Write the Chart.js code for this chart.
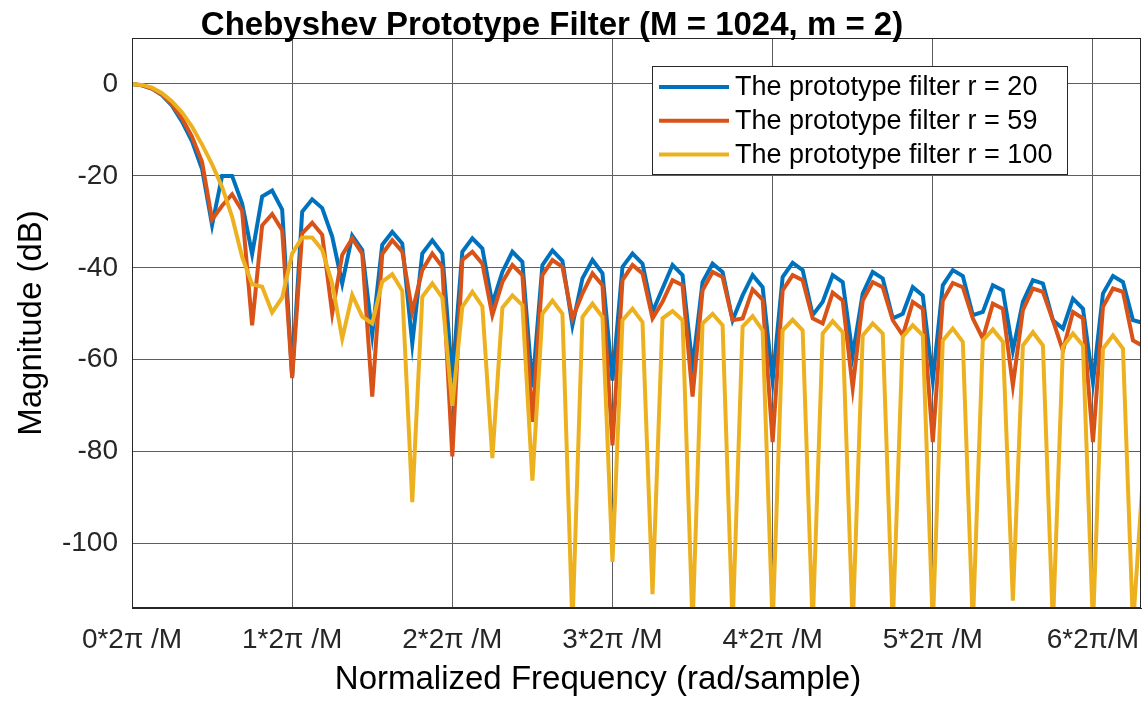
<!DOCTYPE html>
<html>
<head>
<meta charset="utf-8">
<title>Chebyshev Prototype Filter</title>
<script src="https://cdn.jsdelivr.net/npm/chart.js@4.4.0/dist/chart.umd.min.js"></script>
<style>
	html, body { margin: 0; padding: 0; background: #ffffff; }
	#grafico { display: block; }
</style>
</head>
<body>
<canvas id="grafico" width="1143" height="702"></canvas>
<script>
// Magnitudes (dB), one sample every 1/16 of 2*pi/M
const filtroR20 = [
	0, -0.3, -1.0, -2.4, -4.7, -8.2, -12.5, -18.5, -30.7, -20, -20, -26, -37, -24.5, -23.2, -27.3,
	-63.5, -27.8, -25.1, -27, -33.2, -43.4, -33, -36.1, -54.5, -35, -32.2, -34.7, -56.5, -36.9, -34, -36.9,
	-64, -36.5, -33.6, -35.8, -47.8, -40.9, -36.5, -38.7, -66, -39.4, -36.2, -38.5, -52.5, -42.3, -38.3, -41.2,
	-64.5, -39.8, -36.9, -39.1, -49.6, -44.5, -39.4, -41.6, -61.6, -43.1, -39.1, -40.9, -51.4, -46, -41.6, -44.2,
	-64.5, -42, -38.9, -40.5, -50.3, -47.4, -41.6, -43.1, -59, -45.6, -40.9, -42.3, -51, -50, -44.2, -46,
	-64.5, -43.8, -40.5, -41.8, -50.3, -49.6, -43.8, -44.9, -58, -47.4, -42.7, -43.4, -51.4, -53.2, -46.7, -48.9,
	-64.9, -45.6, -41.8, -43.1, -51.4, -52,
];

const filtroR59 = [
	0, -0.3, -1.0, -2.3, -4.5, -7.5, -11.5, -17, -29.5, -26.5, -24, -27.6, -52.5, -30.8, -28.3, -31.8,
	-64, -32.5, -30.2, -32.8, -49.9, -37.2, -33.6, -36.9, -68, -37, -34, -36.5, -49.6, -40.5, -36.9, -39.8,
	-81, -38.3, -36.5, -39.1, -50.3, -43.1, -39.4, -41.6, -73.5, -41.6, -38.3, -39.8, -51, -45.6, -41.2, -43.8,
	-78.6, -42.7, -39.4, -41.2, -51, -47.4, -42.7, -43.8, -68, -44.9, -40.9, -42, -51.4, -51, -44.7, -46.9,
	-77.9, -44.9, -41.6, -42.7, -51, -52.1, -45.4, -47.1, -66.1, -47.1, -43.1, -44.2, -51.4, -54.7, -47.4, -48.9,
	-77.9, -47.1, -43.3, -44.2, -51, -55.4, -47.8, -48.9, -65.6, -49.2, -44.5, -45.2, -51.4, -58, -49.6, -51,
	-77.9, -48.5, -44.5, -45.2, -55.8, -57,
];

const filtroR100 = [
	0, -0.2, -0.8, -2.0, -3.8, -6.2, -9.3, -13.2, -17.5, -22.4, -28.9, -37.6, -43.6, -44.1, -49.7, -46.5,
	-36.9, -33.4, -33.4, -36.1, -43.4, -55.4, -45.9, -50.6, -52.1, -43, -41.4, -45, -91, -46.3, -43.4, -46.5,
	-70, -48.5, -45.2, -48.4, -81.4, -48.7, -46, -48.1, -86.3, -50, -47.1, -50, -118, -50.7, -47.8, -50.7,
	-104, -51.4, -48.9, -51.8, -111, -51, -49.4, -51.4, -118, -52.1, -50, -52.5, -118, -52.8, -50.5, -53.6,
	-118, -53.6, -51.3, -53.6, -118, -54.3, -51.6, -54, -118, -54.7, -52.1, -54.3, -118, -55, -52.5, -54.7,
	-118, -55.8, -53.2, -56.1, -118, -55.8, -53.4, -56.1, -112.4, -56.9, -54, -56.9, -118, -57.2, -54.3, -56.9,
	-118, -57.6, -54.7, -57.6, -118, -85,
];

const nomes = [
	"The prototype filter r = 20",
	"The prototype filter r = 59",
	"The prototype filter r = 100",
];
const cores = ["#0072BD", "#D95319", "#EDB120"];

const ticksX = [0, 1, 2, 3, 4, 5, 6];
const rotulosX = ["0*2π /M", "1*2π /M", "2*2π /M", "3*2π /M", "4*2π /M", "5*2π /M", "6*2π/M"];
const ticksY = [-100, -80, -60, -40, -20, 0];

const titulo = "Chebyshev Prototype Filter (M = 1024, m = 2)";
const tituloX = "Normalized Frequency (rad/sample)";
const tituloY = "Magnitude (dB)";

// eixo de frequência uniforme: 16 amostras por 2*pi/M
const frequencias = filtroR20.map((_, k) => k / 16);

const fonte = "'Liberation Sans', Arial, sans-serif";
const corTexto = "#262626";
const corGrade = "#5e5e5e";

// Título, rótulo do eixo x, caixa fechada e legenda desenhados por cima
const pluginMoldura = {
	id: "moldura",
	afterDatasetsDraw(chart) {
		const { ctx, chartArea: a } = chart;
		ctx.save();
		ctx.strokeStyle = corTexto;
		ctx.lineWidth = 1;
		ctx.strokeRect(a.left + 0.5, a.top + 0.5, a.right - a.left - 1, a.bottom - a.top - 1);
		ctx.restore();
	},
	afterDraw(chart) {
		const ctx = chart.ctx;
		ctx.save();

		// título
		ctx.fillStyle = "#000000";
		ctx.font = "bold 33px " + fonte;
		ctx.textAlign = "center";
		ctx.textBaseline = "middle";
		ctx.fillText(titulo, 552, 26);

		// rótulo do eixo x
		ctx.font = "33px " + fonte;
		ctx.fillText(tituloX, 598, 680);

		// legenda
		const x0 = 652, y0 = 66, w = 415, h = 108;
		ctx.fillStyle = "#ffffff";
		ctx.fillRect(x0, y0, w, h);
		ctx.strokeStyle = corTexto;
		ctx.lineWidth = 1;
		ctx.strokeRect(x0 + 0.5, y0 + 0.5, w, h);
		ctx.font = "27px " + fonte;
		ctx.textAlign = "left";
		ctx.fillStyle = "#000000";
		chart.data.datasets.forEach((ds, i) => {
			const y = y0 + 21 + i * 33.7;
			ctx.strokeStyle = ds.borderColor;
			ctx.lineWidth = 4;
			ctx.beginPath();
			ctx.moveTo(x0 + 7, y);
			ctx.lineTo(x0 + 77, y);
			ctx.stroke();
			ctx.fillText(ds.label, x0 + 83, y + 1);
		});
		ctx.restore();
	},
};

function criarDataset(i, dados, ordem) {
	return {
		label: nomes[i],
		data: dados,
		borderColor: cores[i],
		backgroundColor: cores[i],
		borderWidth: 4,
		pointRadius: 0,
		tension: 0,
		clip: 0,
		order: ordem,
	};
}

const config = {
	type: "line",
	data: {
		labels: frequencias,
		datasets: [
			criarDataset(0, filtroR20, 2),
			criarDataset(1, filtroR59, 1),
			criarDataset(2, filtroR100, 0),
		],
	},
	options: {
		responsive: false,
		animation: false,
		devicePixelRatio: 1,
		layout: { padding: { left: 0, right: 2, top: 38, bottom: 0 } },
		plugins: {
			legend: { display: false },
			tooltip: { enabled: false },
			title: { display: false },
		},
		scales: {
			x: {
				type: "linear",
				min: 0,
				max: 6.3,
				afterBuildTicks: (escala) => {
					escala.ticks = ticksX.map((v) => ({ value: v }));
				},
				afterFit: (escala) => {
					escala.height = 94;
					escala.paddingLeft = 0;
					escala.paddingRight = 0;
				},
				ticks: {
					autoSkip: false,
					maxRotation: 0,
					padding: 15,
					color: corTexto,
					font: { family: fonte, size: 28 },
					callback: (valor) => rotulosX[ticksX.indexOf(valor)],
				},
				grid: { color: corGrade, lineWidth: 1, drawTicks: false },
				border: { color: corTexto, width: 1 },
			},
			y: {
				type: "linear",
				min: -114,
				max: 10,
				afterBuildTicks: (escala) => {
					escala.ticks = ticksY.map((v) => ({ value: v }));
				},
				afterFit: (escala) => {
					escala.width = 132;
				},
				ticks: {
					padding: 14,
					color: corTexto,
					font: { family: fonte, size: 28 },
				},
				grid: { color: corGrade, lineWidth: 1, drawTicks: false },
				border: { color: corTexto, width: 1 },
				title: {
					display: true,
					text: tituloY,
					color: "#000000",
					font: { family: fonte, size: 33 },
					padding: { top: 12, bottom: 0 },
				},
			},
		},
	},
	plugins: [pluginMoldura],
};

const grafico = new Chart(document.getElementById("grafico"), config);
</script>
</body>
</html>
